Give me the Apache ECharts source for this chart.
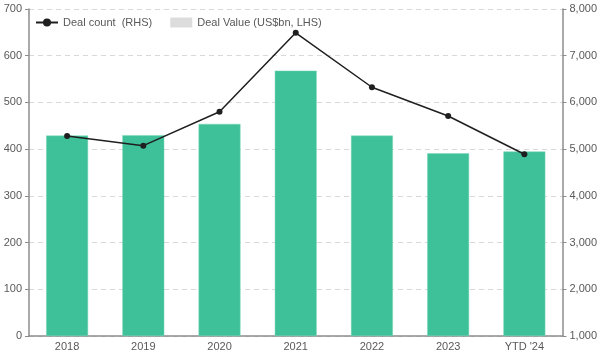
<!DOCTYPE html>
<html lang="en">
<head>
    <meta charset="UTF-8">
    <title>Deal Value and Deal Count</title>
    <script src="https://cdn.jsdelivr.net/npm/echarts@6/dist/echarts.min.js"></script>
    <style>
        body { margin: 0; background: #fff; }
    </style>
</head>
<body>
    <div id="chart" style="width: 600px; height: 352px;"></div>
    <script>
        // Data
        var years = ['2018', '2019', '2020', '2021', '2022', '2023', "YTD '24"];
        var dealValue = [429, 430, 454, 568, 429, 391, 395];        // US$bn, left axis
        var dealCount = [5280, 5075, 5800, 7490, 6325, 5710, 4890]; // right axis

        var labelStyle = { color: '#595959', fontSize: 11, fontFamily: 'Liberation Sans, Arial, sans-serif' };

        var chart = echarts.init(document.getElementById('chart'));

        var option = {
            animation: false,
            grid: { left: 29, right: 37, top: 9, bottom: 16 },
            legend: {
                left: 30,
                top: 12,
                itemWidth: 22,
                itemHeight: 10,
                itemGap: 18,
                textStyle: labelStyle,
                data: [
                    { name: 'Deal count  (RHS)' },
                    {
                        name: 'Deal Value (US$bn, LHS)',
                        icon: 'rect',
                        itemStyle: { color: '#dcdcdc', borderWidth: 0 }
                    }
                ]
            },
            xAxis: {
                type: 'category',
                data: years,
                axisLine: { lineStyle: { color: '#8c8c8c', width: 1.5 } },
                axisTick: { show: false },
                axisLabel: Object.assign({ margin: 5 }, labelStyle)
            },
            yAxis: [
                {
                    type: 'value',
                    min: 0,
                    max: 700,
                    interval: 100,
                    position: 'left',
                    axisLine: { show: true, lineStyle: { color: '#8c8c8c', width: 1.5 } },
                    axisTick: { show: true, length: 4, lineStyle: { color: '#8c8c8c' } },
                    axisLabel: Object.assign({ margin: 7 }, labelStyle),
                    splitLine: { lineStyle: { color: '#d9d9d9', type: [5, 4] } }
                },
                {
                    type: 'value',
                    min: 1000,
                    max: 8000,
                    interval: 1000,
                    position: 'right',
                    axisLine: { show: true, lineStyle: { color: '#8c8c8c', width: 1.5 } },
                    axisTick: { show: true, length: 4, lineStyle: { color: '#8c8c8c' } },
                    axisLabel: Object.assign({
                        margin: 7,
                        formatter: function (v) { return v.toLocaleString('en-US'); }
                    }, labelStyle),
                    splitLine: { show: false }
                }
            ],
            series: [
                {
                    name: 'Deal Value (US$bn, LHS)',
                    type: 'bar',
                    yAxisIndex: 0,
                    barWidth: '55%',
                    data: dealValue,
                    itemStyle: { color: '#3ec199', borderColor: '#7ad6b8', borderWidth: 0.5 }
                },
                {
                    name: 'Deal count  (RHS)',
                    type: 'line',
                    yAxisIndex: 1,
                    data: dealCount,
                    symbol: 'circle',
                    symbolSize: 6,
                    lineStyle: { color: '#1f1f1f', width: 1.5 },
                    itemStyle: { color: '#1f1f1f' }
                }
            ]
        };

        chart.setOption(option);
    </script>
</body>
</html>
